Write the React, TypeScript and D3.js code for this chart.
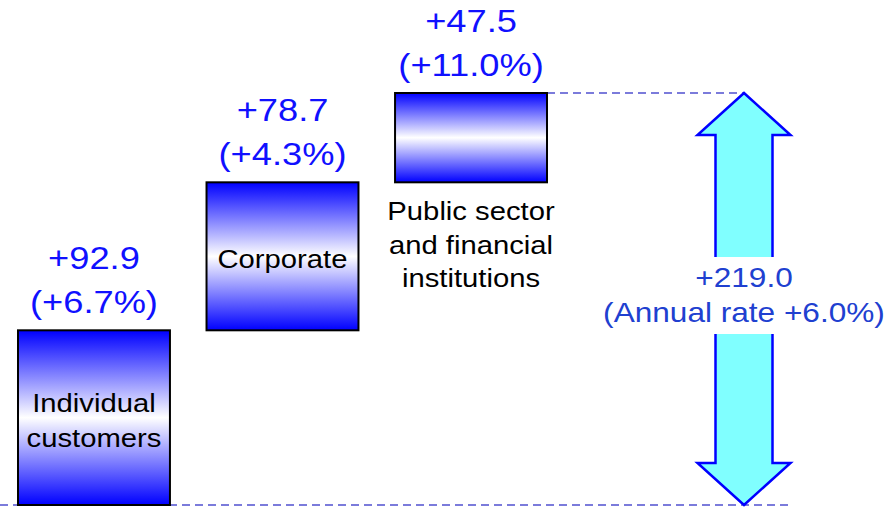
import React from "react";
import { scaleLinear, scaleBand, line } from "d3";

const categories = ["Individual customers", "Corporate", "Public sector and financial institutions"];
const increases = [92.9, 78.7, 47.5];
const growthRates = ["+6.7%", "+4.3%", "+11.0%"];
const innerLines = [["Individual", "customers"], ["Corporate"], []];
const belowLines = [[], [], ["Public sector", "and financial", "institutions"]];
const totalLabel = "+219.0";
const totalRate = "(Annual rate +6.0%)";

const width = 889;
const height = 507;
const sx = 1.17; // text in the original is a little wider than Arial

const Label = ({ x, y, size, fill, children }: { x: number; y: number; size: number; fill: string; children: React.ReactNode }) => (
  <text transform={`translate(${x},${y}) scale(${sx},1)`} textAnchor="middle" fill={fill} fontSize={size}>
    {children}
  </text>
);

const App = () => {
  const total = increases.reduce((a, b) => a + b, 0);
  const y = scaleLinear().domain([0, total]).range([505, 93]);
  const x = scaleBand().domain(categories).range([18, 547]).paddingInner(0.194).paddingOuter(0);

  let acc = 0;
  const bars = increases.map((v, i) => {
    const start = acc;
    acc += v;
    return { cat: categories[i], v, start, end: acc, rate: growthRates[i], inner: innerLines[i], below: belowLines[i] };
  });

  const ax = 744;
  const shaftW = 28.5;
  const headW = 46.5;
  const headL = 42;
  const top = y(total);
  const bot = y(0);
  const arrowPts: [number, number][] = [
    [ax, top],
    [ax + headW, top + headL],
    [ax + shaftW, top + headL],
    [ax + shaftW, bot - headL],
    [ax + headW, bot - headL],
    [ax, bot],
    [ax - headW, bot - headL],
    [ax - shaftW, bot - headL],
    [ax - shaftW, top + headL],
    [ax - headW, top + headL],
  ];
  const arrowPath = line()(arrowPts) + "Z";
  const mid = (top + bot) / 2;

  const last = bars[bars.length - 1];

  return (
    <svg width={width} height={height} style={{ position: "absolute", left: 0, top: 0 }} fontFamily="'Liberation Sans', Arial, sans-serif">
      <defs>
        <linearGradient id="barGrad" x1="0" y1="0" x2="0" y2="1">
          <stop offset="0" stopColor="#0000ff" />
          <stop offset="0.5" stopColor="#ffffff" />
          <stop offset="1" stopColor="#0000ff" />
        </linearGradient>
      </defs>
      <rect width={width} height={height} fill="#fff" />

      {/* dashed reference lines */}
      <line x1={0} x2={ax + headW} y1={y(0)} y2={y(0)} stroke="#5050d0" strokeWidth={1.5} strokeDasharray="8,5" />
      <line x1={x(last.cat)! + x.bandwidth()} x2={ax} y1={y(total)} y2={y(total)} stroke="#5050d0" strokeWidth={1.5} strokeDasharray="8,5" />

      {bars.map((b) => {
        const x0 = x(b.cat)!;
        const cx = x0 + x.bandwidth() / 2;
        const yTop = y(b.end);
        const yBot = y(b.start);
        const cy = (yTop + yBot) / 2;
        return (
          <g key={b.cat}>
            <rect x={x0} y={yTop} width={x.bandwidth()} height={yBot - yTop} fill="url(#barGrad)" stroke="#000" strokeWidth={2} />
            <Label x={cx} y={yTop - 61} size={31} fill="#1010ff">
              {"+" + b.v.toFixed(1)}
            </Label>
            <Label x={cx} y={yTop - 17} size={31} fill="#1010ff">
              {"(" + b.rate + ")"}
            </Label>
            {b.inner.map((t, j) => (
              <Label key={t} x={cx} y={cy + 11.5 + (j - (b.inner.length - 1) / 2) * 35} size={25} fill="#000">
                {t}
              </Label>
            ))}
            {b.below.map((t, j) => (
              <Label key={t} x={cx} y={yBot + 38 + j * 33.5} size={25} fill="#000">
                {t}
              </Label>
            ))}
          </g>
        );
      })}

      <path d={arrowPath} fill="#80ffff" stroke="#0000ff" strokeWidth={2.5} strokeLinejoin="miter" />
      <rect x={ax - 160} y={mid - 42} width={320} height={77} fill="#fff" />
      <Label x={ax} y={mid - 12} size={27} fill="#2040d0">
        {totalLabel}
      </Label>
      <Label x={ax} y={mid + 23} size={27} fill="#2040d0">
        {totalRate}
      </Label>
    </svg>
  );
};

export default App;
